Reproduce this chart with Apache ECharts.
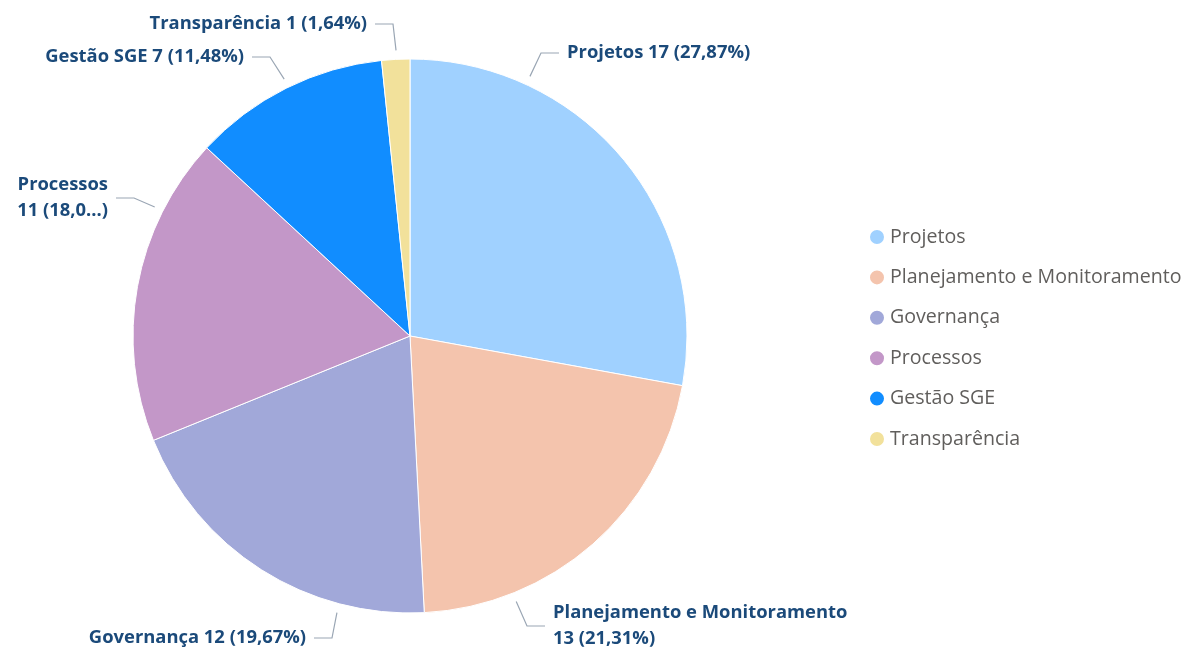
<!DOCTYPE html>
<html>
<head>
<meta charset="utf-8">
<script src="https://cdn.jsdelivr.net/npm/echarts@6/dist/echarts.min.js"></script>
<style>html,body{margin:0;padding:0;background:#fff}#c{width:1184px;height:649px}</style>
</head>
<body>
<div id="c"></div>
<script>
const categories = ['Projetos', 'Planejamento e Monitoramento', 'Governança', 'Processos', 'Gestão SGE', 'Transparência'];
const values = [17, 13, 12, 11, 7, 1];
const colors = ['#A0D1FF', '#F4C4AD', '#A1A8D9', '#C397C8', '#118DFF', '#F2E19B'];

// layout only: pie geometry and label placement [anchor angle (deg, clockwise from top), x, y, align]
const pieCenter = [410, 336];
const pieRadius = 277;
const labelPlacement = [
  [24.8, 567, 53, 'left'],
  [158.2, 553, 626, 'left'],
  [194.8, 306, 638, 'right'],
  [296.8, 108, 198, 'right'],
  [333.9, 244, 57, 'right'],
  [357.2, 367, 24, 'right']
];

const total = values.reduce((a, b) => a + b, 0);
function pct(v) { return (v / total * 100).toFixed(2).replace('.', ','); }

const chart = echarts.init(document.getElementById('c'), null, {renderer: 'canvas'});
chart.setOption({
  animation: false,
  color: colors,
  legend: {
    orient: 'vertical',
    left: 868,
    top: 227,
    padding: 0,
    icon: 'circle',
    itemWidth: 16,
    itemHeight: 16,
    itemGap: 20.4,
    textStyle: {color: '#605E5C', fontSize: 19.6, fontFamily: 'Open Sans'},
    data: categories
  },
  series: [{
    type: 'pie',
    center: pieCenter,
    radius: pieRadius,
    startAngle: 90,
    clockwise: true,
    itemStyle: {borderColor: '#fff', borderWidth: 1},
    label: {
      show: true,
      fontFamily: 'Open Sans',
      fontWeight: 'bold',
      fontSize: 18.4,
      lineHeight: 26,
      width: 400,
      overflow: 'none',
      color: '#1B4A7A',
      formatter: function (p) {
        const name = p.name, v = p.value;
        if (name === 'Processos') return name + '\n' + v + ' (18,0...)';
        if (name === 'Planejamento e Monitoramento') return name + '\n' + v + ' (' + pct(v) + '%)';
        return name + ' ' + v + ' (' + pct(v) + '%)';
      }
    },
    labelLine: {show: true, lineStyle: {color: '#9AA6B4', width: 1.2}},
    labelLayout: function (params) {
      const p = labelPlacement[params.dataIndex];
      const a = p[0] * Math.PI / 180;
      const r = pieRadius + 9;
      const p0 = [pieCenter[0] + r * Math.sin(a), pieCenter[1] - r * Math.cos(a)];
      const dir = p[3] === 'left' ? -1 : 1;
      const end = [p[1] + dir * 8, p[2]];
      const elbow = [end[0] + dir * 18, p[2]];
      return {x: p[1], y: p[2], align: p[3], verticalAlign: 'middle', labelLinePoints: [p0, elbow, end]};
    },
    data: categories.map((c, i) => ({name: c, value: values[i]}))
  }]
});
</script>
</body>
</html>
